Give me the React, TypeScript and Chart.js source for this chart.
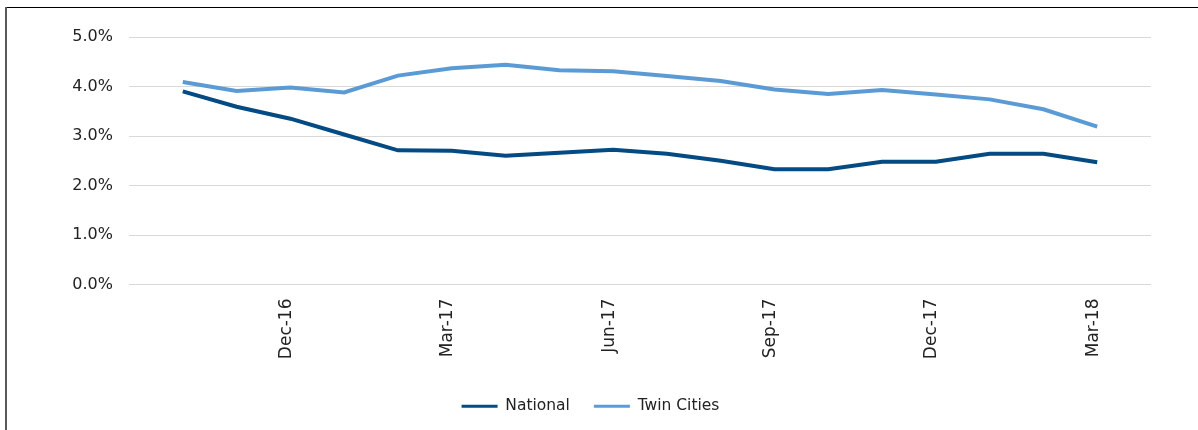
import React, { useEffect, useRef } from "react";
import { Chart, registerables } from "chart.js";

Chart.register(...registerables);

const months = [
  "Oct-16", "Nov-16", "Dec-16", "Jan-17", "Feb-17", "Mar-17", "Apr-17", "May-17", "Jun-17",
  "Jul-17", "Aug-17", "Sep-17", "Oct-17", "Nov-17", "Dec-17", "Jan-18", "Feb-18", "Mar-18",
];
const shownTicks = ["Dec-16", "Mar-17", "Jun-17", "Sep-17", "Dec-17", "Mar-18"];
const national = [3.9, 3.59, 3.35, 3.03, 2.71, 2.7, 2.6, 2.66, 2.72, 2.64, 2.5, 2.33, 2.33, 2.48, 2.48, 2.64, 2.64, 2.47];
const twinCities = [4.09, 3.91, 3.98, 3.88, 4.22, 4.37, 4.44, 4.33, 4.31, 4.21, 4.11, 3.94, 3.85, 3.93, 3.84, 3.74, 3.54, 3.19];
const yTicks = [0, 1, 2, 3, 4, 5];

const FONT = "'DejaVu Sans', sans-serif";

const legendShift = {
  id: "legendShift",
  afterLayout(chart: any) {
    const lg = chart.legend;
    if (lg) {
      lg.left = 15;
      lg.right = 1166;
    }
  },
};

export default function App() {
  const ref = useRef<HTMLCanvasElement | null>(null);
  useEffect(() => {
    document.body.style.margin = "0";
    const ctx = ref.current!;
    const chart = new Chart(ctx, {
      type: "line",
      data: {
        datasets: [
          {
            label: "National",
            data: national.map((v, i) => ({ x: i, y: v })),
            borderColor: "#044a83",
            backgroundColor: "#044a83",
            borderWidth: 4,
            pointRadius: 0,
            tension: 0,
          },
          {
            label: "Twin Cities",
            data: twinCities.map((v, i) => ({ x: i, y: v })),
            borderColor: "#5b9bd5",
            backgroundColor: "#5b9bd5",
            borderWidth: 4,
            pointRadius: 0,
            tension: 0,
          },
        ],
      },
      plugins: [legendShift],
      options: {
        animation: false,
        responsive: false,
        devicePixelRatio: 1,
        layout: { padding: { left: 0, right: 47, top: 37, bottom: 6 } },
        plugins: {
          legend: {
            position: "bottom",
            labels: {
              boxWidth: 36,
              boxHeight: 3,
              padding: 24,
              color: "#222",
              font: { family: FONT, size: 15.5 },
              generateLabels: (c: any) =>
                Chart.defaults.plugins.legend.labels
                  .generateLabels(c)
                  .map((l: any) => ({ ...l, lineWidth: 0 })),
            },
          },
          tooltip: { enabled: false },
        },
        scales: {
          x: {
            type: "linear",
            min: -1,
            max: months.length,
            grid: { display: false, drawTicks: false },
            border: { display: false },
            afterBuildTicks: (scale: any) => {
              scale.ticks = shownTicks.map((m) => ({ value: months.indexOf(m) }));
            },
            afterFit: (scale: any) => {
              scale.height = 90;
            },
            ticks: {
              autoSkip: false,
              minRotation: 90,
              maxRotation: 90,
              padding: 14,
              labelOffset: -4,
              color: "#222",
              font: { family: FONT, size: 17 },
              callback: (v: any) => months[v as number] ?? "",
            },
          },
          y: {
            min: yTicks[0],
            max: yTicks[yTicks.length - 1],
            afterBuildTicks: (scale: any) => {
              scale.ticks = yTicks.map((v) => ({ value: v }));
            },
            afterFit: (scale: any) => {
              scale.width = 129;
            },
            grid: { color: "#d9d9d9", lineWidth: 1, drawTicks: false },
            border: { display: false },
            ticks: {
              padding: 16,
              color: "#222",
              font: { family: FONT, size: 16 },
              callback: (v: any) => Number(v).toFixed(1) + "%",
            },
          },
        },
      },
    });
    return () => chart.destroy();
  }, []);
  return (
    <div style={{ position: "relative", width: 1198, height: 430, overflow: "hidden", background: "#fff" }}>
      <canvas ref={ref} width={1198} height={430} style={{ position: "absolute", left: 0, top: 0, width: 1198, height: 430 }} />
      <div style={{ position: "absolute", left: 6, top: 7, width: 1192, height: 1, background: "#000" }} />
      <div style={{ position: "absolute", left: 5, top: 7, width: 2, height: 423, background: "#5a5a5a" }} />
    </div>
  );
}
